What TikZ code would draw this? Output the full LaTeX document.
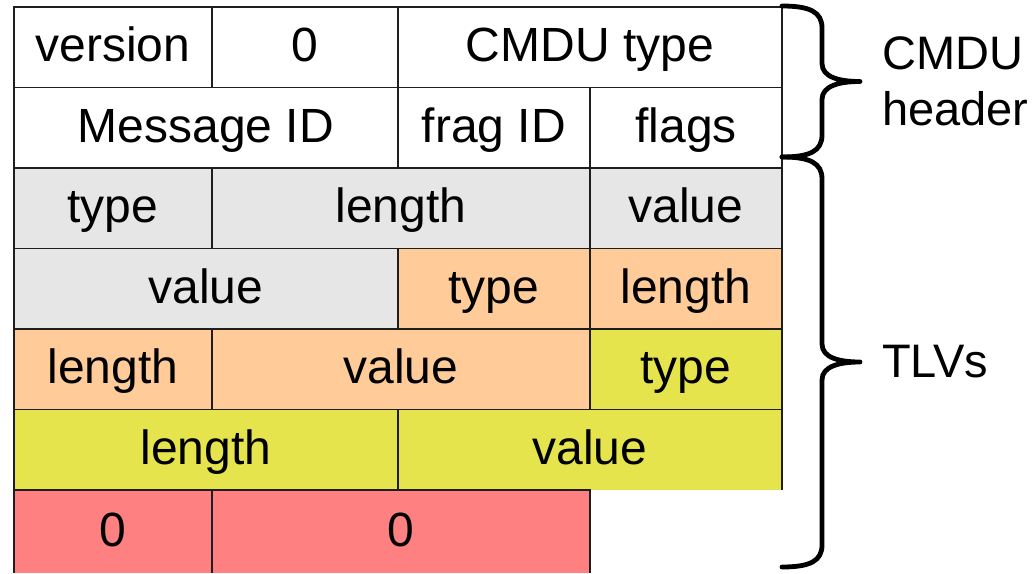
\documentclass[tikz,border=0pt]{standalone}
\usepackage{fontspec}
\setmainfont{Liberation Sans}
\usepackage{xcolor}
\usepackage{tikz}
\usetikzlibrary{positioning,calc}
\definecolor{gridline}{RGB}{30,30,30}
\definecolor{tlvgray}{RGB}{230,230,230}
\definecolor{tlvpeach}{RGB}{255,204,153}
\definecolor{tlvyellow}{RGB}{230,228,76}
\definecolor{tlvred}{RGB}{255,128,128}
\tikzstyle{cell}=[draw=gridline, line width=1.3pt, minimum height=80.5pt, inner sep=0pt, outer sep=0pt, anchor=north west, text height=38pt, text depth=9pt]
\tikzstyle{opencell}=[cell, draw=none]
\tikzstyle{rim}=[draw=gridline, line width=1.3pt]
\tikzstyle{bracepen}=[line width=4.8pt, line cap=round, line join=round]
\tikzstyle{tag}=[inner sep=0pt, align=left, font=\fontsize{47}{56}\selectfont]

% curly brace right of the frame, from #1 (top) to #2 (bottom), tip called #3
\newcommand{\rightbrace}[3]{%
  \draw[bracepen] let \p1=(#1), \p2=(#2), \p3=($(#1)!0.5!(#2)$) in
    (\p1) .. controls (\x1+28pt,\y1) and (\x1+40pt,\y1-6pt) .. (\x1+40pt,\y1-22pt)
    -- (\x1+40pt,\y3+18pt) .. controls (\x1+40pt,\y3+4pt) and (\x1+58pt,\y3) .. (\x1+78pt,\y3) coordinate (#3)
    .. controls (\x1+58pt,\y3) and (\x1+40pt,\y3-4pt) .. (\x1+40pt,\y3-18pt)
    -- (\x1+40pt,\y2+22pt) .. controls (\x1+40pt,\y2+6pt) and (\x1+28pt,\y2) .. (\p2);}

\begin{document}
\begin{tikzpicture}[x=1pt, y=-1pt, font=\fontsize{48}{56}\selectfont]
\useasboundingbox (0,0) rectangle (1035,573);

% CMDU header
\node[cell, fill=white, minimum width=198pt] (ver) at (14,7) {version};
\node[cell, fill=white, minimum width=186pt] (zero) at (212,7) {0};
\node[cell, fill=white, minimum width=384pt] (ctype) at (398,7) {CMDU type};
\node[cell, fill=white, minimum width=384pt] (msgid) at (14,87.5) {Message ID};
\node[cell, fill=white, minimum width=192pt] (frag) at (398,87.5) {frag ID};
\node[cell, fill=white, minimum width=192pt] (flags) at (590,87.5) {flags};

% first TLV
\node[cell, fill=tlvgray, minimum width=198pt] (ta) at (14,168) {type};
\node[cell, fill=tlvgray, minimum width=378pt] (la) at (212,168) {length};
\node[cell, fill=tlvgray, minimum width=192pt] (va) at (590,168) {value};
\node[cell, fill=tlvgray, minimum width=384pt] (vaa) at (14,248.5) {value};

% second TLV
\node[cell, fill=tlvpeach, minimum width=192pt] (tb) at (398,248.5) {type};
\node[cell, fill=tlvpeach, minimum width=192pt] (lb) at (590,248.5) {length};
\node[cell, fill=tlvpeach, minimum width=198pt] (lbb) at (14,329) {length};
\node[cell, fill=tlvpeach, minimum width=378pt] (vb) at (212,329) {value};

% third TLV
\node[cell, fill=tlvyellow, minimum width=192pt] (tc) at (590,329) {type};
\node[cell, fill=tlvyellow, minimum width=384pt] (lc) at (14,409.5) {length};
\node[opencell, fill=tlvyellow, minimum width=384pt] (vc) at (398,409.5) {value};

% end of message TLV, runs off the bottom
\node[opencell, fill=tlvred, minimum width=198pt, minimum height=83pt] (td) at (14,490) {0};
\node[opencell, fill=tlvred, minimum width=378pt, minimum height=83pt] (ld) at (212,490) {0};

% open cells get no bottom rule
\draw[rim] (vc.south west) |- (vc.north east) -- (vc.south east);
\draw[rim] (td.south west) |- (td.north east) -- (td.south east);
\draw[rim] (ld.north west) -- (ld.north east) -- (ld.south east);

% braces and their labels
\coordinate (hdtop) at ($(ctype.north east)+(0,-1)$);
\coordinate (hdbot) at ($(flags.south east)+(0,-11)$);
\coordinate (tlvbot) at (ctype.east |- 0,567);
\rightbrace{hdtop}{hdbot}{hdtip}
\rightbrace{hdbot}{tlvbot}{tlvtip}
\node[tag, right=22pt of hdtip] (hdlabel) {CMDU\\header};
\node[tag, right=22pt of tlvtip] (tlvlabel) {TLVs};
\end{tikzpicture}
\end{document}
